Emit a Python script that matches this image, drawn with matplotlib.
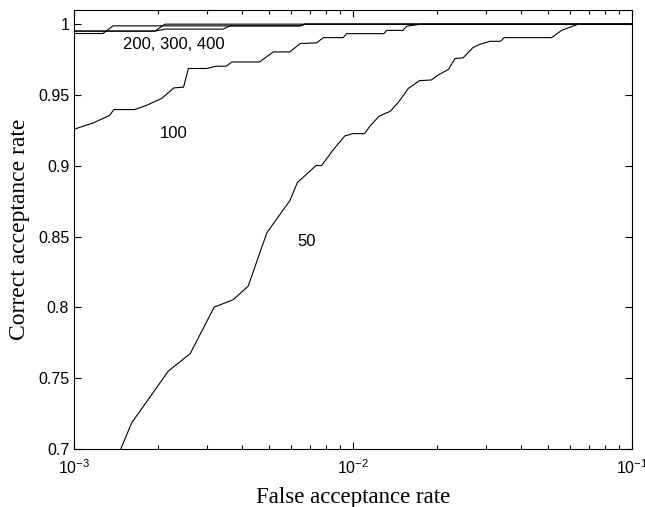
"""
False acceptance vs correct acceptance curves (log x), MATLAB-like styling
"""

import matplotlib
matplotlib.use('Agg')
import matplotlib.pyplot as plt
from matplotlib.ticker import LogLocator, NullFormatter

# --- data ---
fa50 = [1.47e-3, 1.61e-3, 2.18e-3, 2.61e-3, 3.18e-3, 3.72e-3, 4.21e-3, 4.91e-3,
        5.33e-3, 5.94e-3, 6.32e-3, 6.92e-3, 7.37e-3, 7.72e-3, 8.50e-3, 9.35e-3,
        1.0e-2, 1.10e-2, 1.15e-2, 1.24e-2, 1.36e-2, 1.45e-2, 1.58e-2, 1.73e-2,
        1.91e-2, 2.02e-2, 2.20e-2, 2.32e-2, 2.48e-2, 2.69e-2, 2.85e-2, 3.10e-2,
        3.38e-2, 3.48e-2, 5.15e-2, 5.60e-2, 6.42e-2, 0.1]
ca50 = [0.700, 0.7185, 0.7551, 0.7674, 0.8002, 0.8054, 0.815, 0.8526,
        0.8625, 0.8754, 0.8882, 0.8952, 0.9002, 0.9002, 0.9114, 0.9211,
        0.9227, 0.9227, 0.928, 0.935, 0.9385, 0.9445, 0.9547, 0.9601,
        0.9606, 0.9641, 0.9681, 0.9757, 0.9762, 0.9834, 0.9858, 0.9879,
        0.9879, 0.9905, 0.9905, 0.9957, 1.0, 1.0]

fa100 = [1e-3, 1.17e-3, 1.34e-3, 1.39e-3, 1.65e-3, 1.81e-3, 2.06e-3, 2.28e-3,
         2.47e-3, 2.57e-3, 2.99e-3, 3.23e-3, 3.51e-3, 3.68e-3, 4.62e-3, 5.18e-3,
         5.94e-3, 6.46e-3, 7.41e-3, 7.83e-3, 9.22e-3, 9.49e-3, 1.29e-2, 1.32e-2,
         1.51e-2, 1.56e-2, 1.76e-2, 0.1]
ca100 = [0.9258, 0.9302, 0.9355, 0.9397, 0.9397, 0.9425, 0.9475, 0.955,
         0.9555, 0.9687, 0.9687, 0.9703, 0.9703, 0.9733, 0.9733, 0.9804,
         0.9804, 0.9863, 0.9868, 0.9905, 0.9905, 0.9933, 0.9933, 0.9956,
         0.9956, 0.9986, 1.0, 1.0]

fa200 = [1e-3, 1.95e-3, 2.12e-3, 0.1]
ca200 = [0.9951, 0.9951, 1.0, 1.0]

fa300 = [1e-3, 1.27e-3, 1.38e-3, 6.46e-3, 6.73e-3, 0.1]
ca300 = [0.9934, 0.9934, 0.9988, 0.9988, 1.0, 1.0]

fa400 = [1e-3, 1.95e-3, 2.12e-3, 3.42e-3, 3.62e-3, 6.46e-3, 6.73e-3, 0.1]
ca400 = [0.9951, 0.9951, 0.9965, 0.9965, 0.9988, 0.9988, 1.0, 1.0]

yticks = [0.7, 0.75, 0.8, 0.85, 0.9, 0.95, 1.0]
ytick_labels = ['0.7', '0.75', '0.8', '0.85', '0.9', '0.95', '1']

# label text and where it sits (data coords)
curve_labels = [('200, 300, 400', 2.28e-3, 0.9855),
                ('100', 2.27e-3, 0.923),
                ('50', 6.8e-3, 0.8465)]

plt.rcParams['font.family'] = 'Liberation Sans'
plt.rcParams['mathtext.default'] = 'regular'
plt.rcParams['axes.linewidth'] = 0.8

fig = plt.figure(figsize=(6.45, 5.07), dpi=100)
ax = fig.add_axes([74 / 645, 58 / 507, 558 / 645, 439 / 507])

for fa, ca in [(fa50, ca50), (fa100, ca100), (fa200, ca200), (fa300, ca300), (fa400, ca400)]:
    ax.plot(fa, ca, color='black', linewidth=0.8)

for txt, x, y in curve_labels:
    ax.text(x, y, txt, fontsize=12, ha='center', va='center')

ax.set_xscale('log')
ax.set_xlim(1e-3, 1e-1)
ax.set_ylim(0.7, 1.01)
ax.set_yticks(yticks)
ax.set_yticklabels(ytick_labels)
ax.xaxis.set_minor_locator(LogLocator(base=10, subs=range(2, 10)))
ax.xaxis.set_minor_formatter(NullFormatter())

ax.tick_params(which='both', direction='in', top=True, right=True, labelsize=11.5)
ax.tick_params(which='major', length=5, width=0.8)
ax.tick_params(which='minor', length=3, width=0.8)
ax.tick_params(axis='x', which='major', pad=7)

ax.set_xlabel('False acceptance rate', fontsize=16.5, family='Liberation Serif', labelpad=7)
ax.set_ylabel('Correct acceptance rate', fontsize=17, family='Liberation Serif', labelpad=6)

plt.savefig('out.png', dpi=100, facecolor='white')
plt.close()
